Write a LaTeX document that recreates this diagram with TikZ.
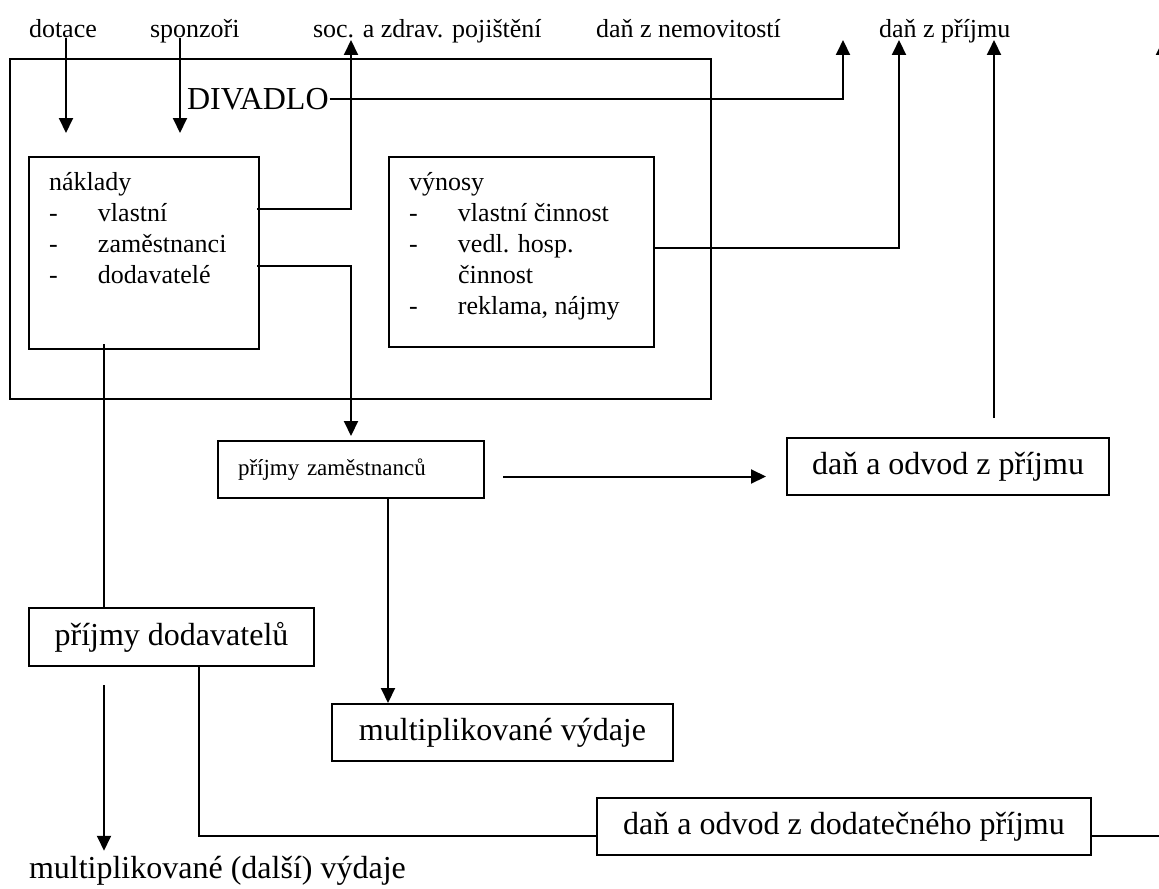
\documentclass[tikz,border=0pt]{standalone}
\usepackage{fontspec}
\setmainfont{Liberation Serif}
\usetikzlibrary{arrows.meta}
\newcommand{\odr}[1]{\makebox[24.5pt][l]{-}#1}
\newcommand{\pokr}[1]{\makebox[24.5pt][l]{}#1}

\begin{document}
\begin{tikzpicture}[x=0.5pt,y=-0.5pt,>={Triangle[length=7.5pt,width=7pt]},line width=1pt,
		box/.style={rectangle,draw=black,line width=1pt,inner sep=0pt,anchor=north west},
		big/.style={box,minimum height=28.5pt,font=\fontsize{16}{19}\selectfont},
		tag/.style={inner sep=0pt,anchor=base west,font=\fontsize{13}{15.5}\selectfont},
		list/.style={inner sep=0pt,anchor=north west,align=left,font=\fontsize{13}{15.5}\selectfont}]
		\useasboundingbox (0,0) rectangle (1159,888);

		\node[tag]  (dotace)       at (28,38)   {dotace};
		\node[tag]  (sponzori)     at (149,38)  {sponzoři};
		\node[tag]  (soc)          at (312,38)  {soc. a zdrav. pojištění};
		\node[tag]  (nemovitosti)  at (595,38)  {daň z nemovitostí};
		\node[tag]  (danprijem)    at (878,38)  {daň z příjmu};

		\node[box,minimum width=350.5pt,minimum height=170pt] (frame) at (9,58) {};
		\node[tag,font=\fontsize{16}{19}\selectfont] (divadlo) at (186,109) {DIVADLO};

		\node[box,minimum width=115pt,minimum height=96pt]   (naklady) at (28,156) {};
		\node[list] (naklady-txt) at (48,171) {náklady\\\odr{vlastní}\\\odr{zaměstnanci}\\\odr{dodavatelé}};
		\node[box,minimum width=132.5pt,minimum height=95pt] (vynosy)  at (388,156) {};
		\node[list] (vynosy-txt) at (408,171) {výnosy\\\odr{vlastní činnost}\\\odr{vedl. hosp.}\\\pokr{činnost}\\\odr{reklama, nájmy}};

		\node[box,minimum height=28.5pt,inner xsep=10pt,text width=113pt,align=left,
			font=\fontsize{11.5}{14}\selectfont] (prijmyzam) at (217,440) {příjmy zaměstnanců};
		\node[big,minimum width=161pt]   (dzp)       at (786,437) {daň a odvod z příjmu};
		\node[big,minimum width=142.5pt,minimum height=29pt] (prijmydod) at (28,607) {příjmy dodavatelů};
		\node[big,minimum width=170.5pt] (multvyd)   at (331,703) {multiplikované výdaje};
		\node[big,minimum width=247pt]   (dodat)     at (596,797) {daň a odvod z dodatečného příjmu};
		\node[tag,font=\fontsize{16}{19}\selectfont] (dalsi) at (28,878) {multiplikované (další) výdaje};

		\coordinate (dot-in)  at (66,133);
		\coordinate (spon-in) at (180,133);
		\coordinate (nem-in)  at (843,40);
		\coordinate (dp-in1)  at (899,40);
		\coordinate (dp-in2)  at (994,40);
		\coordinate (ext-in)  at (1163,40);
		\coordinate (mv-in)   at ([xshift=28.5pt]multvyd.north west);
		\coordinate (nk-out)  at ([xshift=38pt]naklady.south west);

		\draw[->] (dotace.base -| dot-in) -- (dot-in);
		\draw[->] (sponzori.base -| spon-in) -- (spon-in);
		\draw[->] ([shift={(-3,53)}]naklady.north east) -| ([yshift=-1pt]prijmyzam.north |- soc.base);
		\draw[->] ([shift={(-3,110)}]naklady.north east) -| ([yshift=2pt]prijmyzam.north);
		\draw[->] (divadlo.east) -| (nem-in);
		\draw[->] ([yshift=2pt]vynosy.east) -| (dp-in1);
		\draw[->] ([yshift=9.5pt]dzp.north -| dp-in2) -- (dp-in2);
		\draw[->] ([shift={(18,7)}]prijmyzam.east) -- ([shift={(-20,7)}]prijmyzam.east -| dzp.west);
		\draw[->] (prijmyzam.south -| mv-in) -- (mv-in);
		\draw ([yshift=3pt]nk-out) -- (nk-out |- prijmydod.north);
		\draw[->] ([yshift=-9pt]nk-out |- prijmydod.south) -- ([yshift=2pt]nk-out |- dalsi.north);
		\draw ([xshift=85.5pt]prijmydod.south west) |- ([yshift=-4.5pt]dodat.west);
		\draw[->] ([yshift=-4.5pt]dodat.east) -| (ext-in);
\end{tikzpicture}
\end{document}
